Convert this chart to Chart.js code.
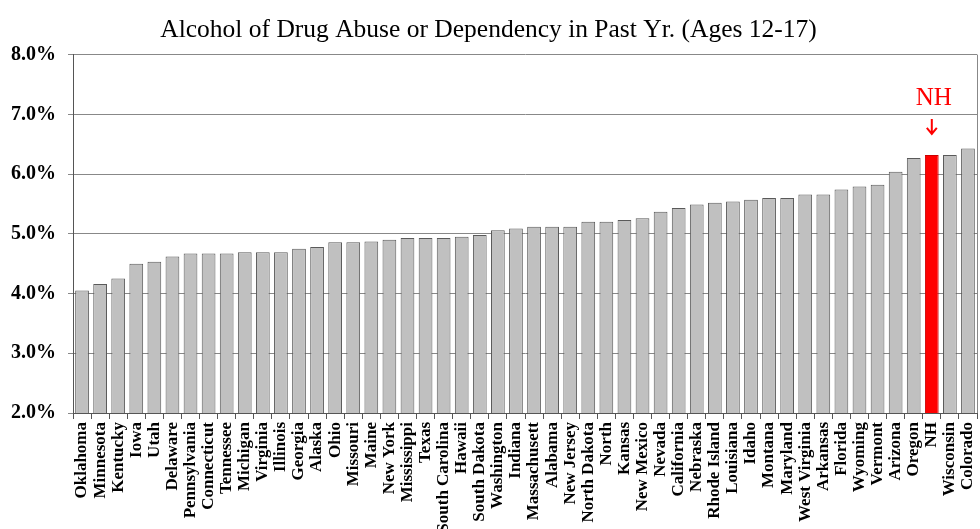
<!DOCTYPE html>
<html>
<head>
<meta charset="utf-8">
<title>Alcohol or Drug Abuse - Ages 12-17</title>
<script src="https://cdn.jsdelivr.net/npm/chart.js@4.4.1/dist/chart.umd.min.js"></script>
<style>
  html, body { margin: 0; padding: 0; background: #ffffff; }
  #wrap { width: 980px; height: 529px; }
</style>
</head>
<body>
<div id="wrap"><canvas id="chart" width="980" height="529"></canvas></div>
<script>
// Chart data
const chartTitle = 'Alcohol of Drug Abuse or Dependency in Past Yr. (Ages 12-17)';

const states = [
    'Oklahoma', 'Minnesota', 'Kentucky', 'Iowa', 'Utah', 'Delaware', 'Pennsylvania',
    'Connecticut', 'Tennessee', 'Michigan', 'Virginia', 'Illinois', 'Georgia', 'Alaska',
    'Ohio', 'Missouri', 'Maine', 'New York', 'Mississippi', 'Texas', 'South Carolina',
    'Hawaii', 'South Dakota', 'Washington', 'Indiana', 'Massachusett', 'Alabama',
    'New Jersey', 'North Dakota', 'North', 'Kansas', 'New Mexico', 'Nevada', 'California',
    'Nebraska', 'Rhode Island', 'Louisiana', 'Idaho', 'Montana', 'Maryland',
    'West Virginia', 'Arkansas', 'Florida', 'Wyoming', 'Vermont', 'Arizona', 'Oregon',
    'NH', 'Wisconsin', 'Colorado'
];

// percent of ages 12-17
const rates = [
    4.05, 4.16, 4.25, 4.50, 4.53, 4.62, 4.67, 4.67, 4.67, 4.69, 4.69, 4.69, 4.75, 4.78,
    4.86, 4.86, 4.87, 4.90, 4.93, 4.93, 4.93, 4.95, 4.98, 5.06, 5.09, 5.12, 5.12,
    5.12, 5.20, 5.20, 5.23, 5.26, 5.37, 5.43, 5.49, 5.52, 5.54, 5.57, 5.60, 5.60,
    5.66, 5.66, 5.74, 5.79, 5.82, 6.04, 6.27, 6.32, 6.32, 6.43
];

const yTicks = [2, 3, 4, 5, 6, 7, 8];
const highlightState = 'NH';

const serif = "'Liberation Serif', 'Times New Roman', serif";
const highlightIndex = states.indexOf(highlightState);

// Arrow + "NH" text above the highlighted bar
const highlightLabel = {
    id: 'highlightLabel',
    afterDatasetsDraw(chart) {
        const bar = chart.getDatasetMeta(0).data[highlightIndex];
        if (!bar) return;
        const ctx = chart.ctx;
        const x = bar.x;
        const top = bar.y;
        ctx.save();
        ctx.fillStyle = '#ff0000';
        ctx.strokeStyle = '#ff0000';
        ctx.font = `25px ${serif}`;
        ctx.textAlign = 'center';
        ctx.textBaseline = 'middle';
        ctx.fillText(highlightState, x + 2, top - 57);

        // arrow
        ctx.lineWidth = 2;
        ctx.beginPath();
        ctx.moveTo(x, top - 36);
        ctx.lineTo(x, top - 21);
        ctx.moveTo(x - 5, top - 27);
        ctx.lineTo(x, top - 21);
        ctx.lineTo(x + 5, top - 27);
        ctx.stroke();
        ctx.restore();
    }
};

// Right-hand frame line of the plot box
const plotFrame = {
    id: 'plotFrame',
    beforeDatasetsDraw(chart) {
        const { ctx, chartArea } = chart;
        ctx.save();
        ctx.strokeStyle = '#888888';
        ctx.lineWidth = 1;
        ctx.beginPath();
        ctx.moveTo(Math.round(chartArea.right) + 0.5, chartArea.top);
        ctx.lineTo(Math.round(chartArea.right) + 0.5, chartArea.bottom);
        ctx.stroke();
        ctx.restore();
    }
};

const ctx = document.getElementById('chart').getContext('2d');

new Chart(ctx, {
    type: 'bar',
    data: {
        labels: states,
        datasets: [{
            data: rates,
            backgroundColor: states.map(s => s === highlightState ? '#ff0000' : '#c0c0c0'),
            borderColor: states.map(s => s === highlightState ? '#cc0000' : '#5a5a5a'),
            borderWidth: 1,
            barPercentage: 0.76,
            categoryPercentage: 1.0
        }]
    },
    options: {
        responsive: false,
        animation: false,
        layout: { padding: { left: 0, right: 3, top: 0, bottom: 0 } },
        plugins: {
            legend: { display: false },
            tooltip: { enabled: false },
            title: {
                display: true,
                text: chartTitle,
                color: '#000000',
                font: { family: serif, size: 25.5, weight: 'normal' },
                padding: { top: 15, bottom: 9 }
            }
        },
        scales: {
            x: {
                grid: {
                    offset: true,
                    drawOnChartArea: false,
                    drawTicks: true,
                    tickLength: 6,
                    color: '#555555'
                },
                border: { color: '#555555' },
                ticks: {
                    autoSkip: false,
                    maxRotation: 90,
                    minRotation: 90,
                    padding: 3,
                    color: '#000000',
                    font: { family: serif, size: 17, weight: 'bold' }
                },
                afterFit(scale) {
                    scale.height = 116;
                    scale.paddingLeft = 0;
                    scale.paddingRight = 0;
                }
            },
            y: {
                min: yTicks[0],
                max: yTicks[yTicks.length - 1],
                afterBuildTicks(scale) {
                    scale.ticks = yTicks.map(v => ({ value: v }));
                },
                grid: {
                    color: '#888888',
                    tickLength: 5
                },
                border: { color: '#555555' },
                ticks: {
                    padding: 12,
                    color: '#000000',
                    font: { family: serif, size: 20, weight: 'bold' },
                    callback: v => v.toFixed(1) + '%'
                },
                afterFit(scale) { scale.width = 73; }
            }
        }
    },
    plugins: [plotFrame, highlightLabel]
});
</script>
</body>
</html>
